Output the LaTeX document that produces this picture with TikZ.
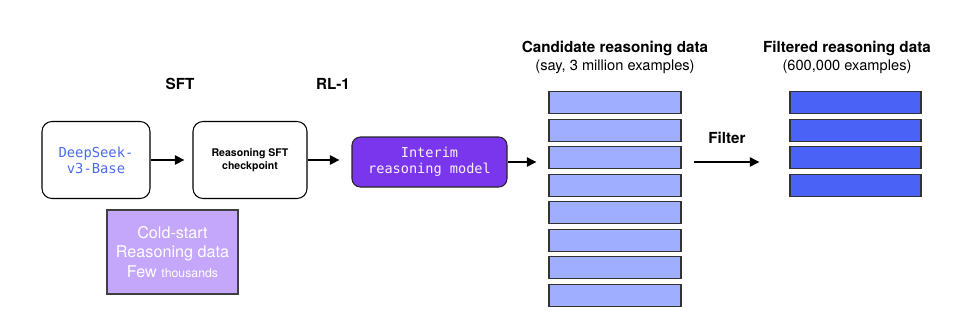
\documentclass[tikz,border=0pt]{standalone}
\usepackage{fontspec}
\setmainfont{TeX Gyre Heros}
\setmonofont{DejaVu Sans Mono}
\usetikzlibrary{arrows.meta}
\definecolor{candblue}{HTML}{A0AEFF}
\definecolor{filtblue}{HTML}{4A62F5}
\definecolor{interimpurple}{HTML}{7A36EC}
\definecolor{coldpurple}{HTML}{C4A6FA}
\definecolor{seekblue}{HTML}{4B6CF0}
\tikzset{
  model/.style={draw=black, line width=0.9pt, rounded corners=0.3cm, fill=white,
    align=center, minimum height=2.31cm},
  bar/.style={draw=black!80, line width=1pt, minimum height=0.66cm, inner sep=0pt},
  arr/.style={-{Triangle[length=2.9mm,width=2.8mm]}, line width=1.5pt},
  stage/.style={font=\bfseries\fontsize{13}{15}\selectfont},
  caption/.style={font=\fontsize{12.5}{15}\selectfont}
}
\begin{document}
\begin{tikzpicture}[x=0.03cm, y=-0.03cm]
  \useasboundingbox (0,0) rectangle (961,333);
  \node[model, minimum width=3.24cm, text=seekblue,
    font=\ttfamily\fontsize{11.8}{13.7}\selectfont] (base) at (96,160) {DeepSeek-\\v3-Base};
  \node[model, minimum width=3.42cm,
    font=\bfseries\fontsize{9}{11.4}\selectfont] (ckpt) at (250,160) {Reasoning SFT\\checkpoint};
  \node[draw=black!85, line width=0.9pt, rounded corners=0.25cm, fill=interimpurple,
    text=white!95!violet, align=center, minimum width=4.65cm, minimum height=1.5cm,
    font=\ttfamily\fontsize{11.6}{13.7}\selectfont] (interim) at (429.5,162) {Interim\\reasoning model};
  \node[draw=black!75, line width=0.9pt, fill=coldpurple, text=white, align=center,
    minimum width=3.93cm, minimum height=2.52cm,
    font=\fontsize{13.8}{16.6}\selectfont] (coldstart) at (172.5,252)
    {Cold-start\\Reasoning data\\Few {\fontsize{10.5}{12}\selectfont thousands}};
  \node[stage] (sftlbl) at (180,84) {SFT};
  \node[stage] (rllbl) at (333,84) {RL-1};
  \foreach \i in {1,...,8} {
    \node[bar, fill=candblue, minimum width=3.96cm] (cand-\i) at (615,{102.9+27.47*(\i-1)}) {};
  }
  \foreach \i in {1,...,4} {
    \node[bar, fill=filtblue, minimum width=3.93cm] (filt-\i) at (855.5,{102.9+27.47*(\i-1)}) {};
  }
  \node[stage] (candtitle) at (615,48) {Candidate reasoning data};
  \node[caption] (candsub) at (615,67) {(say, 3 million examples)};
  \node[stage] (filttitle) at (847,48) {Filtered reasoning data};
  \node[caption] (filtsub) at (847,67) {(600,000 examples)};
  \node[stage] (filterlbl) at (727,138) {Filter};
  \draw[arr, shorten >=0.24cm] (base.east) -- (ckpt.west);
  \draw[arr, shorten >=0.36cm] (ckpt.east) -- (ckpt.east -| interim.west);
  \draw[arr, shorten >=0.36cm] (interim.east) -- (interim.east -| cand-1.west);
  \draw[arr, shorten <=0.36cm, shorten >=0.9cm] (interim.east -| cand-1.east) -- (interim.east -| filt-1.west);
\end{tikzpicture}
\end{document}
